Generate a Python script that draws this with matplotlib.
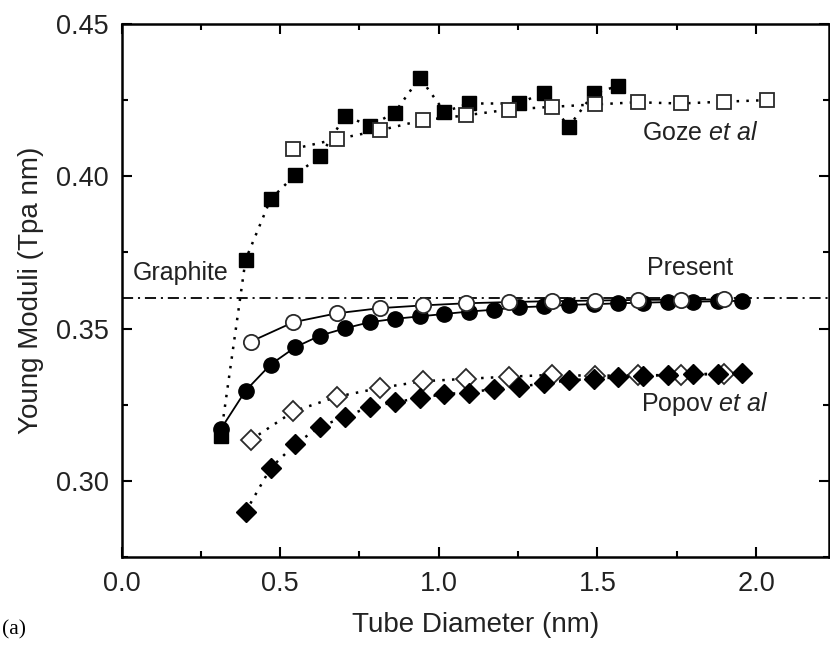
import matplotlib.pyplot as plt
from matplotlib.ticker import MultipleLocator

plt.rcParams["font.family"] = ["Liberation Sans", "DejaVu Sans"]
plt.rcParams["mathtext.fontset"] = "custom"
plt.rcParams["mathtext.rm"] = "Liberation Sans"
plt.rcParams["mathtext.it"] = "Liberation Sans:italic"
plt.rcParams["lines.scale_dashes"] = False

# tube diameters (nm): zigzag and armchair tubes
zigzag_d = [0.313, 0.391, 0.470, 0.548, 0.626, 0.705, 0.783, 0.861, 0.940, 1.018, 1.096,
            1.175, 1.253, 1.331, 1.409, 1.488, 1.566, 1.644, 1.723, 1.801, 1.879, 1.957]
armchair_d = [0.407, 0.542, 0.678, 0.814, 0.949, 1.085, 1.220, 1.356, 1.492, 1.627,
              1.763, 1.898, 2.034]

# Goze et al
goze_zz_d = [0.313, 0.391, 0.470, 0.548, 0.626, 0.705, 0.783, 0.861, 0.940, 1.018,
             1.096, 1.253, 1.331, 1.409, 1.488, 1.566]
goze_zz = [0.3148, 0.3726, 0.3925, 0.4005, 0.4066, 0.4199, 0.4165, 0.4209, 0.4324,
           0.4212, 0.4239, 0.4239, 0.4275, 0.4162, 0.4272, 0.4297]
goze_ac_d = armchair_d[1:]
goze_ac = [0.4090, 0.4122, 0.4151, 0.4184, 0.4200, 0.4219, 0.4228, 0.4236, 0.4243,
           0.4239, 0.4245, 0.4250]

# present work
present_zz_d = zigzag_d
present_zz = [0.3170, 0.3296, 0.3382, 0.3439, 0.3477, 0.3501, 0.3521, 0.3532, 0.3540,
              0.3548, 0.3556, 0.3562, 0.3570, 0.3573, 0.3578, 0.3580, 0.3583, 0.3585,
              0.3587, 0.3588, 0.3590, 0.3591]
present_ac_d = armchair_d[:12]
present_ac = [0.3457, 0.3521, 0.3550, 0.3567, 0.3576, 0.3583, 0.3587, 0.3590, 0.3592,
              0.3594, 0.3595, 0.3596]

# Popov et al
popov_zz_d = zigzag_d[1:]
popov_zz = [0.2898, 0.3042, 0.3121, 0.3178, 0.3211, 0.3243, 0.3258, 0.3272, 0.3285,
            0.3290, 0.3302, 0.3309, 0.3320, 0.3330, 0.3335, 0.3340, 0.3345, 0.3348,
            0.3350, 0.3352, 0.3355]
popov_ac_d = armchair_d[:12]
popov_ac = [0.3134, 0.3228, 0.3276, 0.3305, 0.3327, 0.3335, 0.3342, 0.3348, 0.3345,
            0.3347, 0.3347, 0.3352]

graphite = 0.36

fig = plt.figure(figsize=(8.3, 6.47), dpi=100)
ax = fig.add_axes([0.1464, 0.1391, 0.8524, 0.8238])

dotted = (0, (1.8, 5.2))
filled = dict(color="black", mfc="black", mec="black")
hollow = dict(color="black", mfc="white", mec="#2a2a2a", mew=1.3)

ax.axhline(graphite, color="black", lw=1.3, ls=(0, (8, 3.5, 1.5, 3.5)), zorder=1)

# Goze: hollow drawn over filled
ax.plot(goze_zz_d, goze_zz, ls=dotted, lw=1.8, marker="s", ms=10.5, zorder=3, **filled)
ax.plot(goze_ac_d, goze_ac, ls=dotted, lw=1.8, marker="s", ms=10.5, zorder=4, **hollow)

# present: solid lines
ax.plot(present_zz_d, present_zz, ls="-", lw=1.3, marker="o", ms=11, zorder=3, **filled)
ax.plot(present_ac_d, present_ac, ls="-", lw=1.3, marker="o", ms=11, zorder=4, **hollow)

# Popov: filled drawn over hollow
ax.plot(popov_ac_d, popov_ac, ls=dotted, lw=1.8, marker="D", ms=10, zorder=3, **hollow)
ax.plot(popov_zz_d, popov_zz, ls=dotted, lw=1.8, marker="D", ms=10, zorder=4, **filled)

ax.text(1.641, 0.4142, r"Goze $\it{et\ al}$", fontsize=18, va="center", ha="left",
        color="#222222")
ax.text(0.036, 0.3681, "Graphite", fontsize=18, va="center", ha="left", color="#222222")
ax.text(1.657, 0.3698, "Present", fontsize=18, va="center", ha="left", color="#222222")
ax.text(1.638, 0.3253, r"Popov $\it{et\ al}$", fontsize=18, va="center", ha="left",
        color="#222222")

ax.set_xlim(0, 2.23)
ax.set_ylim(0.275, 0.45)
ax.xaxis.set_major_locator(MultipleLocator(0.5))
ax.xaxis.set_minor_locator(MultipleLocator(0.25))
ax.yaxis.set_major_locator(MultipleLocator(0.05))
ax.yaxis.set_minor_locator(MultipleLocator(0.025))
ax.xaxis.set_major_formatter(plt.FormatStrFormatter("%.1f"))
ax.yaxis.set_major_formatter(plt.FormatStrFormatter("%.2f"))

ax.tick_params(which="both", direction="in", top=True, right=True, width=1.5,
               labelsize=19.5, labelcolor="#222222")
ax.tick_params(which="major", length=7)
ax.tick_params(which="minor", length=4)
ax.tick_params(axis="x", pad=10)
ax.tick_params(axis="y", pad=9)
for s in ax.spines.values():
    s.set_linewidth(1.8)

ax.set_xlabel("Tube Diameter (nm)", fontsize=20, labelpad=11, color="#222222")
ax.set_ylabel("Young Moduli (Tpa nm)", fontsize=20, labelpad=9, color="#222222")

fig.text(0.002, 0.026, "(a)", fontsize=15.5, family="Liberation Serif", va="center")

fig.savefig("out.png", dpi=100)
